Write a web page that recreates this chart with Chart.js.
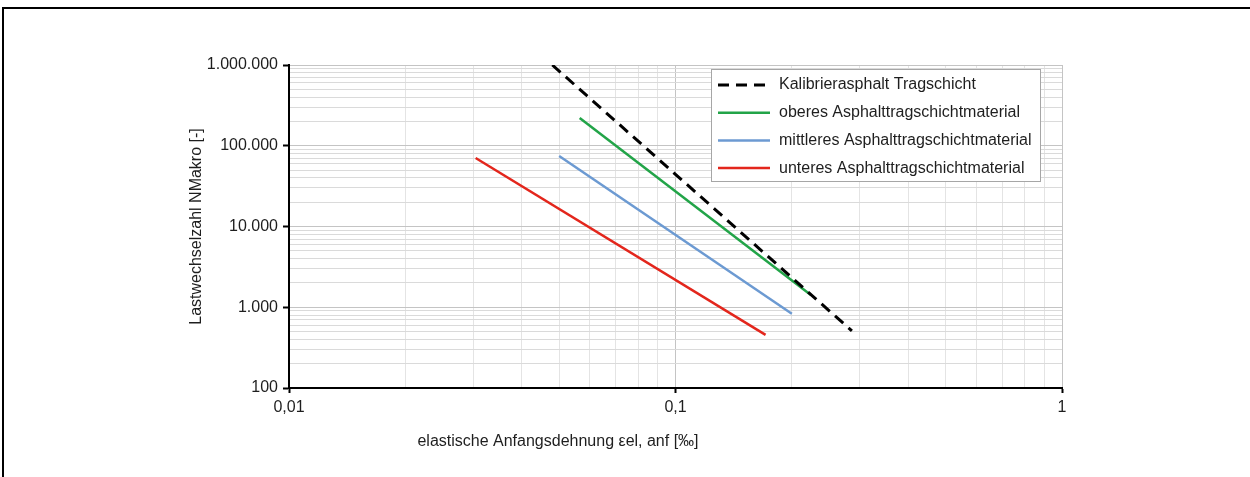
<!DOCTYPE html>
<html>
<head>
<meta charset="utf-8">
<script src="https://cdn.jsdelivr.net/npm/chart.js@4.4.0/dist/chart.umd.min.js"></script>
<style>
  html, body { margin: 0; padding: 0; background: #fff; overflow: hidden; }
  #frame { position: absolute; left: 2px; top: 7px; width: 1260px; height: 480px;
           border-top: 2px solid #000; border-left: 2px solid #000; }
  #wrap { position: absolute; left: 0; top: 0; width: 1250px; height: 477px; }
</style>
</head>
<body>
<div id="frame"></div>
<div id="wrap"><canvas id="chart" width="1250" height="477"></canvas></div>
<script>
// series: elastische Anfangsdehnung [‰] vs. Lastwechselzahl
const seriesNames = [
  "Kalibrierasphalt Tragschicht",
  "oberes Asphalttragschichtmaterial",
  "mittleres Asphalttragschichtmaterial",
  "unteres Asphalttragschichtmaterial"
];
const kalibDehnung = [0.048, 0.286];
const kalibLastwechsel = [1000000, 510];
const obenDehnung = [0.0565, 0.224];
const obenLastwechsel = [221000, 1420];
const mitteDehnung = [0.05, 0.2];
const mitteLastwechsel = [74600, 830];
const untenDehnung = [0.0304, 0.171];
const untenLastwechsel = [70500, 455];

const xTickValues = [0.01, 0.1, 1];
const xTickLabels = ["0,01", "0,1", "1"];
const yTickValues = [100, 1000, 10000, 100000, 1000000];
const yTickLabels = ["100", "1.000", "10.000", "100.000", "1.000.000"];

const FONT = "'Liberation Sans', Arial, sans-serif";
Chart.defaults.font.family = FONT;
Chart.defaults.font.size = 16;
Chart.defaults.color = "#1e1e1e";

function toPoints(xs, ys) {
  return xs.map((x, i) => ({ x: x, y: ys[i] }));
}

// decade ticks plus the 2..9 steps in between (for the minor grid)
function buildTicks(majors) {
  const ticks = [];
  for (let i = 0; i < majors.length - 1; i++) {
    for (let m = 1; m <= 9; m++) {
      ticks.push({ value: Number((majors[i] * m).toPrecision(6)), major: m === 1 });
    }
  }
  ticks.push({ value: majors[majors.length - 1], major: true });
  return ticks;
}

function isMajor(value, majors) {
  return majors.some(v => Math.abs(v - value) / v < 1e-6);
}

function labelFor(value, majors, labels) {
  const i = majors.findIndex(v => Math.abs(v - value) / v < 1e-6);
  return i >= 0 ? labels[i] : "";
}

const boxLegend = {
  id: "boxLegend",
  afterDraw(chart) {
    const ctx = chart.ctx;
    const area = chart.chartArea;
    const w = 330, h = 113;
    const left = area.right - 21 - w;
    const top = area.top + 4;
    ctx.save();
    ctx.fillStyle = "#fff";
    ctx.fillRect(left, top, w, h);
    ctx.strokeStyle = "#a6a6a6";
    ctx.lineWidth = 1;
    ctx.strokeRect(left + 0.5, top + 0.5, w - 1, h - 1);
    ctx.font = "16px " + FONT;
    ctx.textBaseline = "middle";
    chart.data.datasets.forEach((ds, i) => {
      const y = top + 16 + i * 27.7;
      ctx.beginPath();
      ctx.setLineDash(ds.borderDash || []);
      ctx.strokeStyle = ds.borderColor;
      ctx.lineWidth = ds.borderWidth;
      ctx.moveTo(left + 7, y);
      ctx.lineTo(left + 59, y);
      ctx.stroke();
      ctx.setLineDash([]);
      ctx.fillStyle = "#1e1e1e";
      ctx.fillText(ds.label, left + 68, y);
    });
    ctx.restore();
  }
};

const xTitle = {
  id: "xTitle",
  afterDraw(chart) {
    const ctx = chart.ctx;
    const area = chart.chartArea;
    ctx.save();
    ctx.font = "16px " + FONT;
    ctx.fillStyle = "#1e1e1e";
    ctx.textAlign = "center";
    ctx.textBaseline = "middle";
    ctx.fillText("elastische Anfangsdehnung εel, anf [‰]", area.left + 269, area.bottom + 54);
    ctx.restore();
  }
};

new Chart(document.getElementById("chart"), {
  type: "line",
  data: {
    datasets: [
      { label: seriesNames[0], data: toPoints(kalibDehnung, kalibLastwechsel),
        borderColor: "#000000", borderWidth: 3, borderDash: [11, 7] },
      { label: seriesNames[1], data: toPoints(obenDehnung, obenLastwechsel),
        borderColor: "#22a448", borderWidth: 2.5 },
      { label: seriesNames[2], data: toPoints(mitteDehnung, mitteLastwechsel),
        borderColor: "#6c9ad2", borderWidth: 2.5 },
      { label: seriesNames[3], data: toPoints(untenDehnung, untenLastwechsel),
        borderColor: "#e3261c", borderWidth: 2.5 }
    ]
  },
  options: {
    responsive: false,
    animation: false,
    elements: { point: { radius: 0 }, line: { tension: 0, fill: false } },
    layout: { padding: { left: 184, right: 188, top: 65, bottom: 59 } },
    plugins: { legend: { display: false }, tooltip: { enabled: false } },
    scales: {
      x: {
        type: "logarithmic",
        min: 0.01,
        max: 1,
        afterBuildTicks: s => { s.ticks = buildTicks(xTickValues); },
        afterFit: s => { s.height = 30; },
        border: { color: "#000", width: 2 },
        grid: {
          color: c => isMajor(c.tick.value, xTickValues) ? "#c4c4c4" : "#e4e4e4",
          tickColor: c => isMajor(c.tick.value, xTickValues) ? "#000" : "rgba(0,0,0,0)",
          tickLength: 5,
          tickWidth: 2
        },
        ticks: {
          autoSkip: false,
          maxRotation: 0,
          padding: 5,
          callback: v => labelFor(v, xTickValues, xTickLabels)
        }
      },
      y: {
        type: "logarithmic",
        min: 100,
        max: 1000000,
        afterBuildTicks: s => { s.ticks = buildTicks(yTickValues); },
        afterFit: s => { s.width = 105; },
        border: { color: "#000", width: 2 },
        grid: {
          color: c => isMajor(c.tick.value, yTickValues) ? "#c4c4c4" : "#dadada",
          tickColor: c => isMajor(c.tick.value, yTickValues) ? "#000" : "rgba(0,0,0,0)",
          tickLength: 6,
          tickWidth: 2
        },
        ticks: {
          autoSkip: false,
          padding: 5,
          callback: v => labelFor(v, yTickValues, yTickLabels)
        },
        title: {
          display: true,
          text: "Lastwechselzahl NMakro [-]",
          padding: { top: 3, bottom: 4 },
          font: { size: 16 }
        }
      }
    }
  },
  plugins: [boxLegend, xTitle]
});
</script>
</body>
</html>
